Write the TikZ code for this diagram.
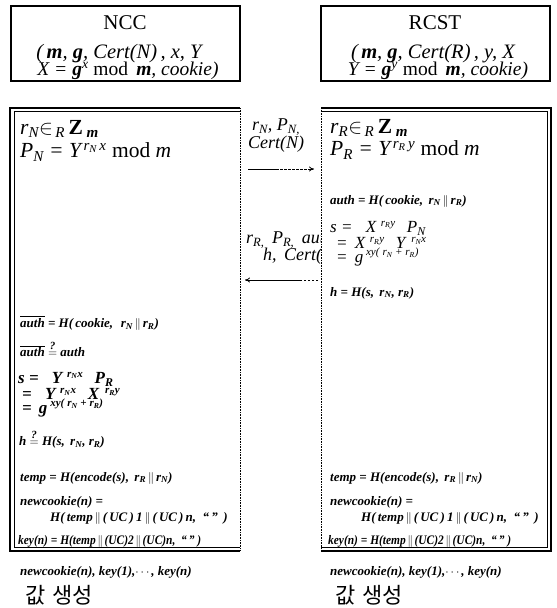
\documentclass[tikz,border=0pt]{standalone}
\usepackage{fontspec}
\usepackage{amsmath}
\setmainfont{Liberation Serif}
\newfontfamily\krfont{Noto Sans CJK KR}
\usetikzlibrary{arrows.meta}
\newcommand{\sbs}[1]{\textsubscript{#1}}
\newcommand{\sps}[1]{\textsuperscript{#1}}
\newcommand{\up}[1]{\raisebox{0.38em}{\fontsize{11}{11}\selectfont #1}}
\newcommand{\cc}{$\,\|\,$}
\newcommand{\qeq}{$\mathrel{\overset{\mbox{\fontsize{11}{11}\selectfont ?}}{=}}$}
\newcommand{\ov}[1]{$\overline{\mbox{#1}}$}
\begin{document}
\begin{tikzpicture}[x=1pt,y=-1pt,
  big/.style={anchor=west,inner sep=0pt,font=\fontsize{21.5}{23}\selectfont\itshape},
  mid/.style={anchor=west,inner sep=0pt,font=\fontsize{17}{17}\selectfont\itshape},
  midb/.style={mid,font=\fontsize{17}{17}\selectfont\itshape\bfseries},
  sm/.style={anchor=west,inner sep=0pt,font=\fontsize{13}{14}\selectfont\itshape\bfseries},
  kr/.style={anchor=west,inner sep=0pt,font=\fontsize{22}{24}\krfont},
  hdr/.style={inner sep=0pt,font=\fontsize{20.5}{22}\selectfont\itshape},
  ttl/.style={inner sep=0pt,font=\fontsize{21}{23}\selectfont},
  lab/.style={inner sep=0pt,font=\fontsize{18}{15}\selectfont\itshape,align=center},
  topbox/.style={draw,line width=2.4pt},
  arr/.style={line width=0.8pt,-{To[length=5pt,width=5pt]}},
  dashline/.style={line width=0.8pt,dash pattern=on 2.5pt off 1.5pt},
  sol/.style={line width=0.8pt},
  dotedge/.style={line width=0.9pt,dash pattern=on 0.8pt off 0.8pt}]
\useasboundingbox (0,0) rectangle (557,608);

% top boxes
\draw[topbox] (11,6) rectangle (240,81);
\draw[topbox] (321,6) rectangle (550,81);
\node[ttl] (ncc) at (125,23) {NCC};
\node[hdr] (ncc2) at (119,54) {(\,\textbf{m}, \textbf{g}, Cert(N)\,, x, Y};
\node[hdr,font=\fontsize{19.5}{21}\selectfont\itshape] (ncc3) at (128,71) {X = \textbf{g}\sps{x} \textup{mod} \,\textbf{m}, cookie)};
\node[ttl] (rcst) at (435,23) {RCST};
\node[hdr] (rcst2) at (433,54) {(\,\textbf{m}, \textbf{g}, Cert(R)\,, y, X};
\node[hdr,font=\fontsize{19.5}{21}\selectfont\itshape] (rcst3) at (438,71) {Y = \textbf{g}\sps{y} \textup{mod} \,\textbf{m}, cookie)};

% left process box
\draw[line width=1.6pt] (240,108) -- (10,108) -- (10,551) -- (240,551);
\draw[line width=0.6pt] (240,111.5) -- (14,111.5) -- (14,547.5) -- (240,547.5);
\draw[dotedge] (240,108) -- (240,551);
% right process box
\draw[line width=1.6pt] (321,108) -- (551,108) -- (551,551) -- (321,551);
\draw[line width=0.6pt] (321,111.5) -- (547,111.5) -- (547,547.5) -- (321,547.5);
\draw[dotedge] (321,108) -- (321,551);

% left contents
\node[big] (l1) at (20,129) {r\sbs{N}$\in$\sbs{\,R}\,\textup{\textbf{Z}}\,\sbs{\textbf{m}}};
\node[big] (l2) at (20,152) {P\sbs{N} = Y\sps{\,r\sbs{N}\,x} \textup{mod} m};
\node[sm] (l3) at (20,323) {\ov{auth} = H(\,cookie,\,\, r\sbs{N}\cc r\sbs{R})};
\node[sm] (l4) at (20,349) {\ov{auth} \qeq\ auth};
\node[midb] (l5) at (18,379) {s = \; Y\,\up{\,r\sbs{N}x}\;\, P\sbs{R}};
\node[midb] (l6) at (22,394) {= \; Y\,\up{\,r\sbs{N}x}\;\, X\,\up{\;r\sbs{R}y}};
\node[midb] (l7) at (22,408) {= \,g\,\up{xy(\;r\sbs{N} + r\sbs{R})}};
\node[sm] (l8) at (19,439) {h \qeq\ H(s,\, r\sbs{N}, r\sbs{R})};
\node[sm] (l9) at (20,478) {temp = H(encode(s),\, r\sbs{R}\cc r\sbs{N})};
\node[sm] (l10) at (20,502) {newcookie(n) =};
\node[sm] (l11) at (50,518) {H(\,temp\cc(\,UC\,)\,1\cc(\,UC\,)\,n, \ ``\,''\ \,)};
\node[sm,xscale=0.88] (l12) at (18,541) {key(n) = H(temp\cc(UC)2\cc(UC)n, \ ``\,''\ )};
\node[sm] (l13) at (20,572) {newcookie(n), key(1),$\cdots$, key(n)};
\node[kr] (l14) at (25,595) {값\hspace{0.3em}생성};

% right contents
\node[big] (r1) at (330,128) {r\sbs{R}$\in$\sbs{\,R}\,\textup{\textbf{Z}}\,\sbs{\textbf{m}}};
\node[big] (r2) at (330,150) {P\sbs{R} = Y\sps{\,r\sbs{R}\,y} \textup{mod} m};
\node[sm] (r3) at (330,201) {auth = H(\,cookie,\, r\sbs{N}\cc r\sbs{R})};
\node[mid] (r4) at (330,228) {s = \; X\,\up{\,r\sbs{R}y}\;\, P\sbs{N}};
\node[mid] (r5) at (336,243) {= \,X\,\up{\,r\sbs{R}y}\;\, Y\,\up{\;r\sbs{N}x}};
\node[mid] (r6) at (336,257) {= \,g\,\up{xy(\;r\sbs{N} + r\sbs{R})}};
\node[sm] (r7) at (330,293) {h = H(s,\, r\sbs{N}, r\sbs{R})};
\node[sm] (r9) at (330,478) {temp = H(encode(s),\, r\sbs{R}\cc r\sbs{N})};
\node[sm] (r10) at (330,502) {newcookie(n) =};
\node[sm] (r11) at (361,518) {H(\,temp\cc(\,UC\,)\,1\cc(\,UC\,)\,n, \ ``\,''\ \,)};
\node[sm,xscale=0.88] (r12) at (328,541) {key(n) = H(temp\cc(UC)2\cc(UC)n, \ ``\,''\ )};
\node[sm] (r13) at (330,572) {newcookie(n), key(1),$\cdots$, key(n)};
\node[kr] (r14) at (335,595) {값\hspace{0.3em}생성};

% message 1
\node[lab] (m1) at (276,136) {r\sbs{N}, P\sbs{N,}\\[0pt]Cert(N)};
\coordinate (a1s) at (248,169);
\coordinate (a1m) at (276,169);
\coordinate (a1e) at (314,169);
\draw[sol] (a1s) -- (a1m);
\draw[dashline,-{To[length=5pt,width=5pt]}] (a1m) -- (a1e);

% message 2 (cut off by right box)
\begin{scope}
\clip (241,200) rectangle (320.5,270);
\node[lab,anchor=west] (m2a) at (246,240) {r\sbs{R,}\, P\sbs{R,}\, auth,};
\node[lab,anchor=west] (m2b) at (263,256) {h,\, Cert(R)};
\end{scope}
\coordinate (a2s) at (318,280);
\coordinate (a2m) at (300,280);
\coordinate (a2e) at (245,280);
\draw[dashline] (a2s) -- (a2m);
\draw[arr] (a2m) -- (a2e);
\end{tikzpicture}
\end{document}
